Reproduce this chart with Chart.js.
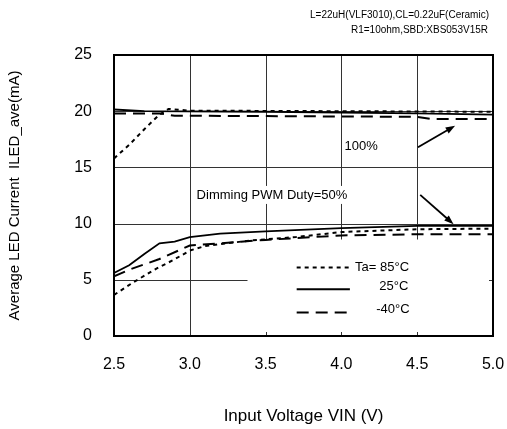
<!DOCTYPE html>
<html>
<head>
<meta charset="utf-8">
<script src="https://cdn.jsdelivr.net/npm/chart.js@4.4.0/dist/chart.umd.min.js"></script>
<style>
  body { margin: 0; background: #fff; }
  #grafico { display: block; }
</style>
</head>
<body>
<canvas id="grafico" width="507" height="429"></canvas>
<script>
// 1. DATOS
const ticksX = [2.5, 3.0, 3.5, 4.0, 4.5, 5.0];
const ticksY = [0, 5, 10, 15, 20, 25];

// Duty 100%
const vin100_85 = [2.5, 2.6, 2.7, 2.8, 2.86, 3.0, 4.0, 5.0];
const iled100_85 = [15.8, 17.0, 18.4, 19.7, 20.2, 20.05, 20.0, 19.95];
const vin100_25 = [2.5, 2.7, 3.5, 4.5, 5.0];
const iled100_25 = [20.15, 20.0, 19.95, 19.8, 19.7];
const vin100_m40 = [2.5, 2.8, 2.9, 4.5, 4.6, 5.0];
const iled100_m40 = [19.8, 19.8, 19.6, 19.5, 19.3, 19.3];

// Duty 50%
const vin50_85 = [2.5, 2.63, 2.78, 2.89, 3.0, 3.1, 3.4, 3.7, 4.0, 4.5, 5.0];
const iled50_85 = [3.65, 4.8, 6.0, 6.75, 7.6, 8.0, 8.5, 8.8, 9.25, 9.5, 9.55];
const vin50_25 = [2.5, 2.6, 2.7, 2.8, 2.9, 3.0, 3.2, 3.5, 4.0, 4.5, 5.0];
const iled50_25 = [5.6, 6.3, 7.3, 8.25, 8.4, 8.8, 9.1, 9.3, 9.6, 9.8, 9.8];
const vin50_m40 = [2.5, 2.6, 2.8, 3.0, 3.2, 3.5, 4.0, 4.5, 5.0];
const iled50_m40 = [5.3, 5.9, 6.85, 8.05, 8.25, 8.55, 8.95, 9.05, 9.05];

const etiquetasLeyenda = ['Ta= 85°C', '25°C', '-40°C'];
const textoEncabezado = ['L=22uH(VLF3010),CL=0.22uF(Ceramic)', 'R1=10ohm,SBD:XBS053V15R'];

// 2. ESTILOS
const FUENTE = '"Liberation Sans", Arial, sans-serif';
const estilo85 = { borderDash: [4, 4], borderWidth: 2 };
const estilo25 = { borderDash: [], borderWidth: 1.8 };
const estiloM40 = { borderDash: [12, 7], borderWidth: 2 };

function puntos(xs, ys) {
    return xs.map((x, i) => ({ x: x, y: ys[i] }));
}

function serie(label, xs, ys, estilo) {
    return Object.assign({
        label: label,
        data: puntos(xs, ys),
        borderColor: '#000',
        pointRadius: 0,
        tension: 0,
        fill: false
    }, estilo);
}

// 3. PLUGIN: rejilla parcial, marco, anotaciones y leyenda interna
const dibujosExtra = {
    id: 'dibujosExtra',
    beforeDatasetsDraw(chart) {
        const ctx = chart.ctx;
        const sx = chart.scales.x, sy = chart.scales.y;
        const px = v => sx.getPixelForValue(v);
        const py = v => sy.getPixelForValue(v);
        ctx.save();
        ctx.strokeStyle = '#333';
        ctx.lineWidth = 1;
        // segmentos de rejilla en unidades de datos
        const segs = [
            [3.0, 0, 3.0, 25],
            [3.5, 8.6, 3.5, 25], [4.0, 8.6, 4.0, 25], [4.5, 8.6, 4.5, 25],
            [2.5, 20, 5.0, 20], [2.5, 15, 5.0, 15], [2.5, 10, 5.0, 10],
            [2.5, 5, 3.38, 5]
        ];
        segs.forEach(s => {
            ctx.beginPath();
            ctx.moveTo(Math.round(px(s[0])) + 0.5, Math.round(py(s[1])) + 0.5);
            ctx.lineTo(Math.round(px(s[2])) + 0.5, Math.round(py(s[3])) + 0.5);
            ctx.stroke();
        });
        // marcas cortas en el borde
        [3.5, 4.0, 4.5].forEach(v => {
            ctx.beginPath();
            ctx.moveTo(Math.round(px(v)) + 0.5, py(0));
            ctx.lineTo(Math.round(px(v)) + 0.5, py(0) - 4);
            ctx.stroke();
        });
        ctx.beginPath();
        ctx.moveTo(px(5.0), Math.round(py(5)) + 0.5);
        ctx.lineTo(px(5.0) - 4, Math.round(py(5)) + 0.5);
        ctx.stroke();

        // textos con fondo blanco
        ctx.font = '13px ' + FUENTE;
        ctx.textBaseline = 'middle';
        ctx.textAlign = 'left';
        const t1 = 'Dimming PWM Duty=50%';
        const w1 = ctx.measureText(t1).width;
        ctx.fillStyle = '#fff';
        ctx.fillRect(px(3.045) - 2, py(12.55) - 9, w1 + 4, 18);
        ctx.fillStyle = '#000';
        ctx.fillText(t1, px(3.045), py(12.55));
        ctx.textAlign = 'center';
        ctx.fillText('100%', px(4.13), py(16.9));
        ctx.restore();
    },
    afterDatasetsDraw(chart) {
        const ctx = chart.ctx;
        const sx = chart.scales.x, sy = chart.scales.y;
        const px = v => sx.getPixelForValue(v);
        const py = v => sy.getPixelForValue(v);
        const a = chart.chartArea;
        ctx.save();
        // marco
        ctx.strokeStyle = '#000';
        ctx.lineWidth = 2;
        ctx.strokeRect(a.left, a.top, a.right - a.left, a.bottom - a.top);

        // flechas
        function flecha(x1, y1, x2, y2) {
            const X1 = px(x1), Y1 = py(y1), X2 = px(x2), Y2 = py(y2);
            const ang = Math.atan2(Y2 - Y1, X2 - X1);
            ctx.lineWidth = 1.8;
            ctx.beginPath();
            ctx.moveTo(X1, Y1);
            ctx.lineTo(X2 - 6 * Math.cos(ang), Y2 - 6 * Math.sin(ang));
            ctx.stroke();
            ctx.beginPath();
            ctx.moveTo(X2, Y2);
            ctx.lineTo(X2 - 10 * Math.cos(ang - 0.35), Y2 - 10 * Math.sin(ang - 0.35));
            ctx.lineTo(X2 - 10 * Math.cos(ang + 0.35), Y2 - 10 * Math.sin(ang + 0.35));
            ctx.closePath();
            ctx.fill();
        }
        ctx.fillStyle = '#000';
        flecha(4.505, 16.8, 4.75, 18.7);
        flecha(4.52, 12.55, 4.74, 9.95);

        // leyenda interna
        const estilos = [estilo85, estilo25, estiloM40];
        const filasY = [6.1, 4.15, 2.1];
        const textoX = [4.09, 4.25, 4.23];
        const textoY = [6.1, 4.4, 2.35];
        ctx.font = '13px ' + FUENTE;
        ctx.textBaseline = 'middle';
        ctx.textAlign = 'left';
        estilos.forEach((e, i) => {
            ctx.setLineDash(e.borderDash);
            ctx.lineWidth = 2;
            ctx.beginPath();
            ctx.moveTo(px(3.705), py(filasY[i]));
            ctx.lineTo(px(4.056), py(filasY[i]));
            ctx.stroke();
            ctx.setLineDash([]);
            ctx.fillText(etiquetasLeyenda[i], px(textoX[i]), py(textoY[i]));
        });
        ctx.restore();
    },
    afterDraw(chart) {
        const ctx = chart.ctx;
        ctx.save();
        ctx.font = '10px ' + FUENTE;
        ctx.fillStyle = '#000';
        ctx.textAlign = 'right';
        ctx.textBaseline = 'middle';
        ctx.fillText(textoEncabezado[0], 489, 15);
        ctx.fillText(textoEncabezado[1], 488, 30);
        ctx.restore();
    }
};

// 4. GRAFICO
const ctxG = document.getElementById('grafico').getContext('2d');
const grafico = new Chart(ctxG, {
    type: 'line',
    data: {
        datasets: [
            serie('100% 85°C', vin100_85, iled100_85, estilo85),
            serie('100% 25°C', vin100_25, iled100_25, estilo25),
            serie('100% -40°C', vin100_m40, iled100_m40, estiloM40),
            serie('50% 85°C', vin50_85, iled50_85, estilo85),
            serie('50% 25°C', vin50_25, iled50_25, estilo25),
            serie('50% -40°C', vin50_m40, iled50_m40, estiloM40)
        ]
    },
    options: {
        responsive: false,
        animation: false,
        devicePixelRatio: 1,
        layout: { padding: { left: 0, right: 14, top: 55, bottom: 0 } },
        plugins: { legend: { display: false }, tooltip: { enabled: false } },
        scales: {
            x: {
                type: 'linear',
                min: 2.5, max: 5.0,
                afterBuildTicks: s => { s.ticks = ticksX.map(v => ({ value: v })); },
                afterFit: s => { s.height = 93; s.paddingLeft = 0; s.paddingRight = 0; },
                grid: { display: false },
                border: { display: false },
                ticks: {
                    color: '#000',
                    padding: 11,
                    font: { family: FUENTE, size: 16 },
                    callback: v => Number(v).toFixed(1)
                },
                title: {
                    display: true,
                    text: 'Input Voltage VIN (V)',
                    color: '#000',
                    font: { family: FUENTE, size: 17 },
                    padding: { top: 0, bottom: 2 }
                }
            },
            y: {
                min: 0, max: 25,
                afterBuildTicks: s => { s.ticks = ticksY.map(v => ({ value: v })); },
                afterFit: s => { s.width = 114; s.paddingTop = 0; s.paddingBottom = 0; },
                grid: { display: false },
                border: { display: false },
                ticks: {
                    color: '#000',
                    padding: 14,
                    font: { family: FUENTE, size: 16 }
                },
                title: {
                    display: true,
                    text: 'Average LED Current  ILED_ave(mA)',
                    color: '#000',
                    font: { family: FUENTE, size: 15 },
                    padding: { top: 6, bottom: 0 }
                }
            }
        }
    },
    plugins: [dibujosExtra]
});
</script>
</body>
</html>
